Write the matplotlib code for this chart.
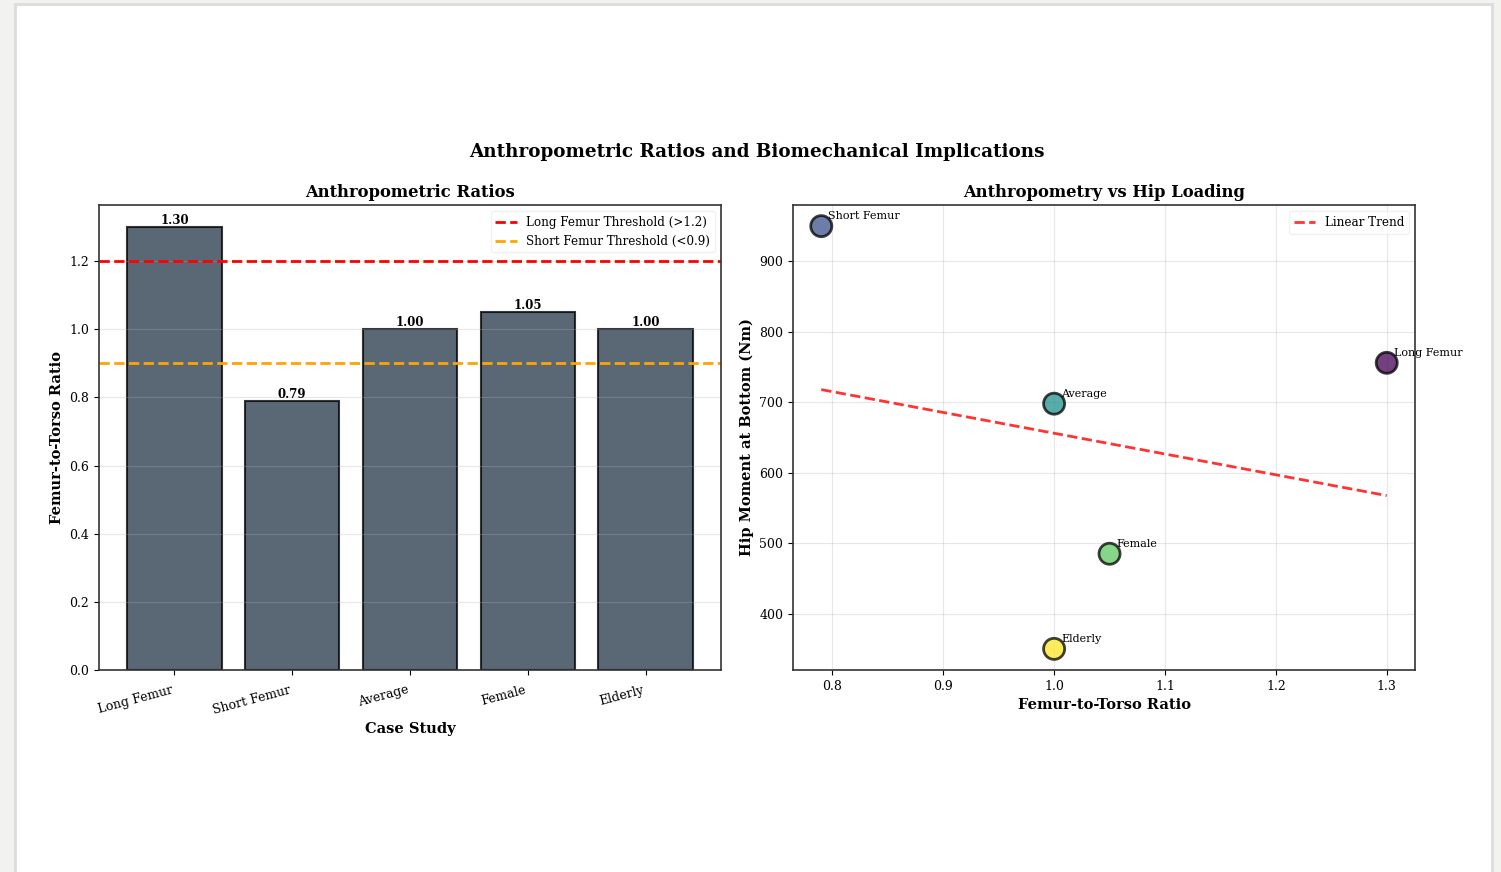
import matplotlib

matplotlib.use('agg')
import matplotlib.pyplot as plt
from matplotlib.patches import Rectangle
import numpy as np

# case study data
cases = ['Long Femur', 'Short Femur', 'Average', 'Female', 'Elderly']
femur_torso_ratio = [1.30, 0.79, 1.00, 1.05, 1.00]
hip_moment = [756, 950, 698, 485, 350]

long_threshold = 1.2
short_threshold = 0.9

plt.rcParams['font.family'] = ['DejaVu Serif']
plt.rcParams['axes.edgecolor'] = '#333333'
plt.rcParams['axes.linewidth'] = 1.2

fig = plt.figure(figsize=(15.01, 8.72), dpi=100, facecolor='#f2f2ee')

# white card behind the charts
card = Rectangle((15 / 1501, -0.01), 1477 / 1501, 1 - 4 / 872 + 0.01,
                 transform=fig.transFigure, facecolor='white',
                 edgecolor='#dcdcdc', linewidth=2, zorder=-10)
fig.patches.append(card)

ax1 = fig.add_axes([99 / 1501, 1 - 670 / 872, 622 / 1501, 465 / 872])
ax2 = fig.add_axes([793 / 1501, 1 - 670 / 872, 622 / 1501, 465 / 872])

fig.text(0.504, 0.826, 'Anthropometric Ratios and Biomechanical Implications',
         ha='center', va='center', fontsize=13.2, fontweight='bold')

# bar chart of ratios
x = np.arange(len(cases))
bars = ax1.bar(x, femur_torso_ratio, color='#2c3e50', alpha=0.78,
               edgecolor='black', linewidth=1.5)
for b, v in zip(bars, femur_torso_ratio):
  ax1.text(b.get_x() + b.get_width() / 2, v, f'{v:.2f}', ha='center',
           va='bottom', fontsize=8.5, fontweight='bold')
ax1.axhline(long_threshold, color='red', linestyle='--', linewidth=2,
            label='Long Femur Threshold (>1.2)')
ax1.axhline(short_threshold, color='orange', linestyle='--', linewidth=2,
            label='Short Femur Threshold (<0.9)')
ax1.set_xticks(x)
ax1.set_xticklabels(cases, rotation=15, ha='right', fontsize=9)
ax1.tick_params(axis='y', labelsize=9)
ax1.tick_params(axis='x', pad=6)
ax1.set_ylim(0, 1.365)
ax1.set_xlabel('Case Study', fontsize=10.5, fontweight='bold')
ax1.set_ylabel('Femur-to-Torso Ratio', fontsize=10.5, fontweight='bold')
ax1.set_title('Anthropometric Ratios', fontsize=11.8, fontweight='bold')
ax1.legend(loc='upper right', fontsize=8.6, framealpha=0.8,
           edgecolor='#eeeeee', handlelength=1.8)
ax1.grid(axis='y', alpha=0.3)

# scatter of ratio vs hip moment
ax2.scatter(femur_torso_ratio, hip_moment, c=range(len(cases)),
            cmap='viridis', s=230, alpha=0.75, edgecolors='black',
            linewidths=2, zorder=3)
for name, rx, hy in zip(cases, femur_torso_ratio, hip_moment):
  ax2.annotate(name, (rx, hy), xytext=(5, 5), textcoords='offset points',
               fontsize=8)
coef = np.polyfit(femur_torso_ratio, hip_moment, 1)
trend_x = np.array([min(femur_torso_ratio), max(femur_torso_ratio)])
ax2.plot(trend_x, np.polyval(coef, trend_x), color='red', linestyle='--',
         linewidth=2, alpha=0.8, label='Linear Trend')
ax2.set_xlabel('Femur-to-Torso Ratio', fontsize=10.5, fontweight='bold')
ax2.set_ylabel('Hip Moment at Bottom (Nm)', fontsize=10.5,
               fontweight='bold')
ax2.set_title('Anthropometry vs Hip Loading', fontsize=11.8,
              fontweight='bold')
ax2.tick_params(labelsize=9)
ax2.legend(loc='upper right', fontsize=8.6, framealpha=0.8,
           edgecolor='#eeeeee', handlelength=1.8)
ax2.grid(alpha=0.3)

plt.savefig('out.png', dpi=100, facecolor=fig.get_facecolor())
